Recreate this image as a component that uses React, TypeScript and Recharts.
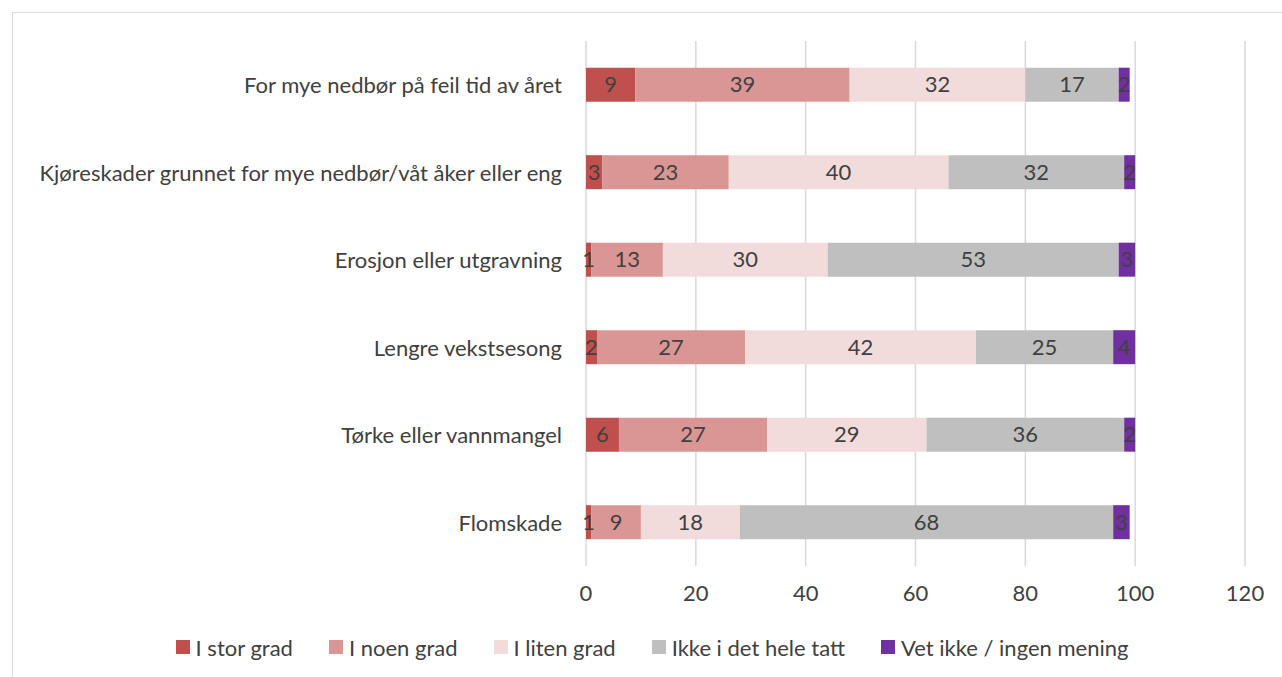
import React from "react";
import { BarChart, Bar, XAxis, YAxis, CartesianGrid, LabelList, Legend } from "recharts";

const categories = [
  "For mye nedbør på feil tid av året",
  "Kjøreskader grunnet for mye nedbør/våt åker eller eng",
  "Erosjon eller utgravning",
  "Lengre vekstsesong",
  "Tørke eller vannmangel",
  "Flomskade",
];
const iStorGrad = [9, 3, 1, 2, 6, 1];
const iNoenGrad = [39, 23, 13, 27, 27, 9];
const iLitenGrad = [32, 40, 30, 42, 29, 18];
const ikkeIDetHeleTatt = [17, 32, 53, 25, 36, 68];
const vetIkke = [2, 2, 3, 4, 2, 3];
const xTicks = [0, 20, 40, 60, 80, 100, 120];

const series = [
  { key: "s1", name: "I stor grad", values: iStorGrad, color: "#C0504D" },
  { key: "s2", name: "I noen grad", values: iNoenGrad, color: "#D99694" },
  { key: "s3", name: "I liten grad", values: iLitenGrad, color: "#F2DCDB" },
  { key: "s4", name: "Ikke i det hele tatt", values: ikkeIDetHeleTatt, color: "#BFBFBF" },
  { key: "s5", name: "Vet ikke / ingen mening", values: vetIkke, color: "#7030A0" },
];

const data = categories.map((c, i) => {
  const row: any = { name: c };
  series.forEach((s) => (row[s.key] = s.values[i]));
  return row;
});

const FONT = "Lato, 'Open Sans', sans-serif";
const TEXT = "#404040";
const FS = 22;

const YTick = (props: any) => {
  const { x, y, payload } = props;
  return (
    <text x={x - 16} y={y} textAnchor="end" dominantBaseline="central" fill={TEXT} fontSize={FS} fontFamily={FONT}>
      {payload.value}
    </text>
  );
};

const XTick = (props: any) => {
  const { x, y, payload } = props;
  return (
    <text x={x} y={y + 18} textAnchor="middle" dominantBaseline="central" fill={TEXT} fontSize={FS} fontFamily={FONT}>
      {payload.value}
    </text>
  );
};

const LegendContent = () => (
  <div style={{ display: "flex", justifyContent: "center", alignItems: "center", height: 40, fontFamily: FONT, fontSize: FS, color: TEXT, paddingLeft: 95 }}>
    {series.map((s) => (
      <div key={s.key} style={{ display: "flex", alignItems: "center", marginRight: 36 }}>
        <span style={{ display: "inline-block", width: 14, height: 14, background: s.color, marginRight: 6 }} />
        <span>{s.name}</span>
      </div>
    ))}
  </div>
);

export default function App() {
  return (
    <div style={{ position: "absolute", left: 0, top: 0, width: 1282, height: 677, background: "#fff", overflow: "hidden" }}>
      <div style={{ position: "absolute", left: 12, top: 12, width: 1290, height: 680, borderTop: "1px solid #d9d9d9", borderLeft: "1px solid #d9d9d9" }} />
      <BarChart
        width={1282}
        height={677}
        data={data}
        layout="vertical"
        margin={{ top: 41, right: 37, left: 0, bottom: 10 }}
        barCategoryGap="30.5%"
      >
        <CartesianGrid horizontal={false} vertical={true} stroke="#d9d9d9" strokeWidth={1.5} />
        <XAxis type="number" domain={[0, 120]} ticks={xTicks} axisLine={false} tickLine={false} tick={<XTick />} height={61} />
        <YAxis type="category" dataKey="name" width={586} axisLine={false} tickLine={false} tick={<YTick />} interval={0} />
        <Legend verticalAlign="bottom" content={<LegendContent />} />
        {series.map((s) => (
          <Bar key={s.key} dataKey={s.key} name={s.name} stackId="a" fill={s.color} isAnimationActive={false}>
            <LabelList dataKey={s.key} position="center" fill={TEXT} fontSize={FS} fontFamily={FONT} />
          </Bar>
        ))}
      </BarChart>
    </div>
  );
}
